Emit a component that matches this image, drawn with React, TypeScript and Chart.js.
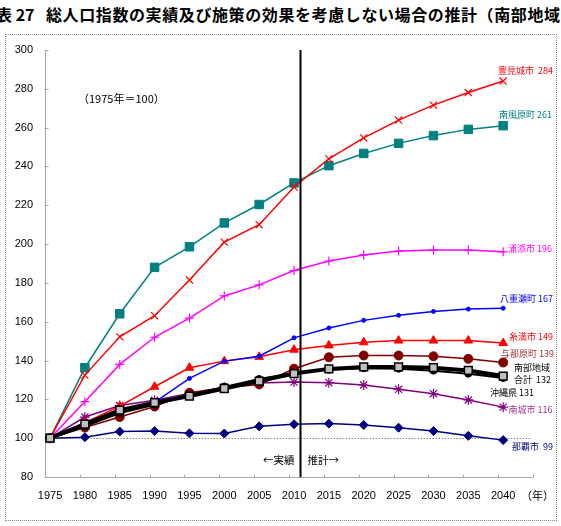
import { useEffect, useRef } from 'react';
import { Chart, registerables } from 'chart.js';

Chart.register(...registerables);

// Census years (actual) and projection years
const YEARS = [1975, 1980, 1985, 1990, 1995, 2000, 2005, 2010, 2015, 2020, 2025, 2030, 2035, 2040];
const Y_TICKS = [80, 100, 120, 140, 160, 180, 200, 220, 240, 260, 280, 300];

// Population index, 1975 = 100
const NANBU_TOTAL = [100, 107.2, 114.4, 118.3, 121.7, 125.6, 129.4, 133.3, 135.7, 136.7, 136.7, 136.3, 134.9, 132];
const OKINAWA = [100, 106.1, 113.0, 117.2, 122.1, 126.4, 130.5, 133.6, 135.3, 136.0, 135.8, 134.8, 133.2, 131];
const NAHA = [100, 100.5, 103.4, 103.7, 102.5, 102.4, 106.1, 107.2, 107.5, 106.8, 105.4, 103.7, 101.2, 99];
const TOMIGUSUKU = [100, 132.5, 152.2, 163.1, 181.5, 201.0, 210.0, 229.4, 243.9, 254.7, 263.9, 271.6, 278.1, 284];
const HAEBARU = [100, 136.3, 164.1, 188.0, 198.6, 210.9, 220.4, 231.5, 240.4, 246.7, 251.9, 255.9, 259.1, 261];
const URASOE = [100, 118.8, 138.0, 152.0, 161.9, 173.3, 179.0, 186.4, 191.3, 194.4, 196.4, 196.9, 196.9, 196];
const YAESE = [100, 107.0, 113.0, 118.5, 130.8, 139.7, 142.2, 151.7, 156.8, 160.7, 163.3, 165.3, 166.5, 167];
const ITOMAN = [100, 108.0, 116.5, 126.5, 136.3, 139.7, 141.9, 145.6, 147.8, 149.4, 150.3, 150.3, 150.3, 149];
const YONABARU = [100, 105.5, 110.9, 116.3, 123.4, 126.0, 127.7, 135.8, 141.7, 142.6, 142.6, 142.2, 140.9, 139];
const NANJO = [100, 110.9, 116.8, 119.5, 123.0, 126.3, 128.4, 128.9, 128.6, 127.4, 125.2, 122.9, 119.7, 116];

// Boundary between actual figures and projection
const DIVIDER_YEAR = 2010.93;
const X_MIN = 1974.28;
const X_MAX = 2044.28;

const TITLE_HEAD = '表 27';
const TITLE_BODY = '総人口指数の実績及び施策の効果を考慮しない場合の推計（南部地域）';
const BASE_NOTE = '（1975年＝100）';
const ACTUAL_NOTE = '←実績';
const PROJ_NOTE = '推計→';
const YEAR_UNIT = '（年）';

const FONT_JP = '"Noto Sans CJK JP", "Noto Sans", sans-serif';
const FONT_NUM = '"Liberation Sans", Arial, sans-serif';

type EndLabel = { lines: string[]; color: string; align: CanvasTextAlign; dx: number; dy: number };
type Series = {
  name: string;
  data: number[];
  color: string;
  width: number;
  style: string;
  radius: number;
  fill: string;
  pointBorder: string;
  pointBorderWidth: number;
  label: EndLabel;
};

const last = (a: number[]) => a[a.length - 1];

// Drawn in array order from last to first, so the regional total sits on top
const SERIES: Series[] = [
  {
    name: '南部地域合計', data: NANBU_TOTAL, color: '#000000', width: 4, style: 'rect', radius: 5.5,
    fill: '#c0c0c0', pointBorder: '#000000', pointBorderWidth: 1.5,
    label: { lines: ['南部地域', `合計  ${last(NANBU_TOTAL)}`], color: '#000000', align: 'left', dx: -19, dy: -8.4 },
  },
  {
    name: '沖縄県', data: OKINAWA, color: '#000000', width: 2, style: 'circle', radius: 3.5,
    fill: '#000000', pointBorder: '#000000', pointBorderWidth: 1,
    label: { lines: [`沖縄県 ${last(OKINAWA)}`], color: '#000000', align: 'right', dx: 1, dy: 14.7 },
  },
  {
    name: '那覇市', data: NAHA, color: '#000080', width: 1.5, style: 'rectRot', radius: 4.5,
    fill: '#000080', pointBorder: '#000080', pointBorderWidth: 1,
    label: { lines: [`那覇市  ${last(NAHA)}`], color: '#000080', align: 'right', dx: 20, dy: 6.6 },
  },
  {
    name: '豊見城市', data: TOMIGUSUKU, color: '#ff0000', width: 1.5, style: 'crossRot', radius: 5,
    fill: '#ff0000', pointBorder: '#ff0000', pointBorderWidth: 1.2,
    label: { lines: [`豊見城市  ${last(TOMIGUSUKU)}`], color: '#ff0000', align: 'right', dx: 20, dy: -10.1 },
  },
  {
    name: '南風原町', data: HAEBARU, color: '#008080', width: 1.5, style: 'rect', radius: 6,
    fill: '#008080', pointBorder: '#008080', pointBorderWidth: 1,
    label: { lines: [`南風原町 ${last(HAEBARU)}`], color: '#008080', align: 'right', dx: 19, dy: -10.7 },
  },
  {
    name: '浦添市', data: URASOE, color: '#ff00ff', width: 1.5, style: 'cross', radius: 4.5,
    fill: '#ff00ff', pointBorder: '#ff00ff', pointBorderWidth: 1.2,
    label: { lines: [`浦添市 ${last(URASOE)}`], color: '#ff00ff', align: 'right', dx: 19, dy: -2.9 },
  },
  {
    name: '八重瀬町', data: YAESE, color: '#0000ff', width: 1.5, style: 'circle', radius: 2,
    fill: '#0000ff', pointBorder: '#0000ff', pointBorderWidth: 1,
    label: { lines: [`八重瀬町 ${last(YAESE)}`], color: '#0000ff', align: 'right', dx: 20, dy: -9.8 },
  },
  {
    name: '糸満市', data: ITOMAN, color: '#ff0000', width: 1.5, style: 'triangle', radius: 5,
    fill: '#ff0000', pointBorder: '#ff0000', pointBorderWidth: 1,
    label: { lines: [`糸満市 ${last(ITOMAN)}`], color: '#ff0000', align: 'right', dx: 20, dy: -6.5 },
  },
  {
    name: '与那原町', data: YONABARU, color: '#800000', width: 1.5, style: 'circle', radius: 4.5,
    fill: '#800000', pointBorder: '#800000', pointBorderWidth: 1,
    label: { lines: [`与那原町 ${last(YONABARU)}`], color: '#993333', align: 'right', dx: 21, dy: -8.6 },
  },
  {
    name: '南城市', data: NANJO, color: '#800080', width: 1.5, style: 'star', radius: 5,
    fill: '#800080', pointBorder: '#800080', pointBorderWidth: 1.2,
    label: { lines: [`南城市 ${last(NANJO)}`], color: '#993399', align: 'right', dx: 19.5, dy: 2.2 },
  },
];

const decorations = {
  id: 'decorations',
  beforeDatasetsDraw(chart: any) {
    const { ctx, chartArea: a, scales } = chart;
    const x = scales.x;
    const y = scales.y;
    ctx.save();
    const ax = Math.round(a.left) + 0.5;
    const ay = Math.round(a.bottom) + 0.5;

    // dotted reference line at index 100
    const y100 = Math.round(y.getPixelForValue(100)) + 0.5;
    ctx.strokeStyle = '#8a8a8a';
    ctx.lineWidth = 1;
    ctx.setLineDash([1.5, 1.5]);
    ctx.beginPath();
    ctx.moveTo(ax, y100);
    ctx.lineTo(a.right - 3, y100);
    ctx.stroke();
    ctx.setLineDash([]);

    // axis lines with inward tick marks
    ctx.strokeStyle = '#a6a6a6';
    ctx.beginPath();
    ctx.moveTo(ax, a.top);
    ctx.lineTo(ax, ay);
    ctx.lineTo(a.right, ay);
    for (const v of Y_TICKS) {
      const py = Math.round(y.getPixelForValue(v)) + 0.5;
      ctx.moveTo(ax - 1, py);
      ctx.lineTo(ax + 3, py);
    }
    for (let v = X_MIN; v <= X_MAX + 0.01; v += 5) {
      const px = Math.round(x.getPixelForValue(v)) + 0.5;
      ctx.moveTo(px, ay);
      ctx.lineTo(px, ay - 3);
    }
    ctx.stroke();
    ctx.restore();
  },
  afterDatasetsDraw(chart: any) {
    const { ctx, chartArea: a, scales } = chart;
    const x = scales.x;
    const y = scales.y;
    ctx.save();

    // actual / projection divider
    const dx = x.getPixelForValue(DIVIDER_YEAR);
    ctx.strokeStyle = '#000000';
    ctx.lineWidth = 2;
    ctx.beginPath();
    ctx.moveTo(dx, a.top);
    ctx.lineTo(dx, a.bottom);
    ctx.stroke();

    ctx.fillStyle = '#000000';
    ctx.textBaseline = 'middle';
    ctx.font = `11px ${FONT_JP}`;
    ctx.textAlign = 'left';
    ctx.fillText(BASE_NOTE, a.left + 33, a.top + 48.5);

    ctx.font = `10.5px ${FONT_JP}`;
    ctx.textAlign = 'right';
    ctx.fillText(ACTUAL_NOTE, dx - 6, a.bottom - 17);
    ctx.textAlign = 'left';
    ctx.fillText(PROJ_NOTE, dx + 7, a.bottom - 17);

    ctx.font = `11px ${FONT_JP}`;
    ctx.fillText(YEAR_UNIT, a.right - 12, a.bottom + 18.5);

    // series names with their 2040 values
    ctx.font = `9px ${FONT_JP}`;
    for (const s of SERIES) {
      const py = y.getPixelForValue(last(s.data)) + s.label.dy;
      ctx.fillStyle = s.label.color;
      ctx.textAlign = s.label.align;
      s.label.lines.forEach((line, i) => {
        ctx.fillText(line, a.right + s.label.dx, py + i * 12.3);
      });
    }
    ctx.restore();
  },
};

export default function App() {
  const canvasRef = useRef<HTMLCanvasElement | null>(null);

  useEffect(() => {
    const canvas = canvasRef.current;
    if (!canvas) return;
    const chart = new Chart(canvas, {
      type: 'line',
      data: {
        datasets: SERIES.map((s) => ({
          label: s.name,
          data: s.data.map((v, i) => ({ x: YEARS[i], y: v })),
          borderColor: s.color,
          borderWidth: s.width,
          backgroundColor: s.fill,
          pointStyle: s.style as any,
          pointRadius: s.radius,
          pointBackgroundColor: s.fill,
          pointBorderColor: s.pointBorder,
          pointBorderWidth: s.pointBorderWidth,
          tension: 0,
          fill: false,
        })),
      },
      options: {
        animation: false,
        responsive: false,
        devicePixelRatio: 1,
        layout: { padding: { left: 0, top: 50, right: 28, bottom: 0 } },
        plugins: {
          legend: { display: false },
          tooltip: { enabled: false },
          title: { display: false },
        },
        scales: {
          x: {
            type: 'linear',
            min: X_MIN,
            max: X_MAX,
            grid: { display: false, drawTicks: false },
            border: { display: false },
            afterBuildTicks: (scale: any) => {
              scale.ticks = YEARS.map((v) => ({ value: v }));
            },
            afterFit: (scale: any) => {
              scale.height = 49;
            },
            ticks: {
              autoSkip: false,
              maxRotation: 0,
              padding: 12,
              color: '#000000',
              font: { family: FONT_NUM, size: 11 },
              callback: (v: any) => String(v),
            },
          },
          y: {
            type: 'linear',
            min: 80,
            max: 300,
            grid: { display: false, drawTicks: false },
            border: { display: false },
            afterBuildTicks: (scale: any) => {
              scale.ticks = Y_TICKS.map((v) => ({ value: v }));
            },
            afterFit: (scale: any) => {
              scale.width = 45;
            },
            ticks: {
              padding: 12,
              color: '#000000',
              font: { family: FONT_NUM, size: 11 },
            },
          },
        },
      },
      plugins: [decorations],
    });
    return () => chart.destroy();
  }, []);

  return (
    <div
      style={{
        position: 'absolute',
        left: 0,
        top: 0,
        width: 561,
        height: 526,
        overflow: 'hidden',
        background: '#ffffff',
      }}
    >
      <div
        style={{
          position: 'absolute',
          left: -4,
          top: 4,
          lineHeight: '20px',
          fontSize: 16,
          fontWeight: 700,
          fontFamily: FONT_JP,
          whiteSpace: 'nowrap',
          color: '#000',
        }}
      >
        {TITLE_HEAD}
      </div>
      <div
        style={{
          position: 'absolute',
          left: 46,
          top: 4,
          lineHeight: '20px',
          fontSize: 16,
          letterSpacing: '0.6px',
          fontWeight: 700,
          fontFamily: FONT_JP,
          whiteSpace: 'nowrap',
          color: '#000',
        }}
      >
        {TITLE_BODY}
      </div>
      <div
        style={{
          position: 'absolute',
          left: 5,
          top: 34,
          width: 552,
          height: 487,
          boxSizing: 'border-box',
          border: '1px dotted #8c8c8c',
        }}
      />
      <canvas
        ref={canvasRef}
        width={561}
        height={526}
        style={{ position: 'absolute', left: 0, top: 0, width: 561, height: 526 }}
      />
    </div>
  );
}
